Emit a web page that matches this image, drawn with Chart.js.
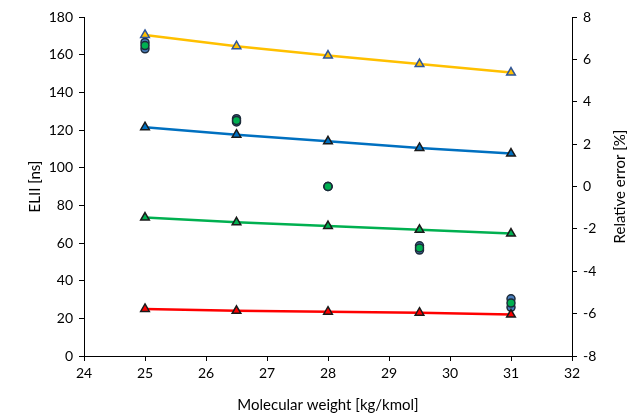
<!doctype html>
<html>
<head>
<title>ELII vs molecular weight</title>
<script src="https://cdn.jsdelivr.net/npm/chart.js@4/dist/chart.umd.min.js"></script>
<style>
  body { margin: 0; background: #fff; }
</style>
</head>
<body>
<canvas id="chart" width="638" height="420"></canvas>
<script>
// molecular weight [kg/kmol]
var weights = [25, 26.5, 28, 29.5, 31];

// ELII [ns], left axis
var eliiYellow = [170.5, 164.5, 159.5, 155, 150.5];
var eliiBlue   = [121.5, 117.5, 114, 110.5, 107.5];
var eliiGreen  = [73.5, 71, 69, 67, 65];
var eliiRed    = [25, 24, 23.5, 23, 22];

// relative error [%], right axis
var errA = [6.8, 3.2, 0.0, -2.8, -5.3];
var errB = [6.5, 3.05, 0.0, -3.0, -5.7];
var errC = [6.65, 3.12, 0.0, -2.9, -5.5];

var xTicks = { min: 24, max: 32, step: 1 };
var yTicks = { min: 0, max: 180, step: 20 };
var y2Ticks = { min: -8, max: 8, step: 2 };

function pts(ys) {
  return weights.map(function(x, i) { return { x: x, y: ys[i] }; });
}

function lineSet(label, ys, color, border) {
  return {
    label: label, data: pts(ys), yAxisID: 'y', showLine: true,
    borderColor: color, borderWidth: 2.5,
    pointStyle: 'triangle', pointRadius: 5,
    pointBackgroundColor: color, pointBorderColor: border, pointBorderWidth: 1.5
  };
}

function errSet(label, ys, fill) {
  return {
    label: label, data: pts(ys), yAxisID: 'y2', showLine: false,
    pointStyle: 'circle', pointRadius: 4,
    pointBackgroundColor: fill, pointBorderColor: '#1c2a3a', pointBorderWidth: 1.5
  };
}

var tickFont = { family: 'Lato, "Open Sans", sans-serif', size: 14 };
var titleFont = { family: 'Lato, "Open Sans", sans-serif', size: 15 };
var axisGrid = { display: true, drawOnChartArea: false, drawTicks: true, tickLength: 5, color: '#000' };

// right axis title reads bottom-to-top, like the left one
var rightTitle = {
  id: 'rightTitle',
  afterDraw: function(chart) {
    var c = chart.ctx, a = chart.chartArea;
    c.save();
    c.translate(620, (a.top + a.bottom) / 2);
    c.rotate(-Math.PI / 2);
    c.fillStyle = '#000';
    c.font = titleFont.size + 'px ' + titleFont.family;
    c.textAlign = 'center';
    c.textBaseline = 'middle';
    c.fillText('Relative error [%]', 0, 0);
    c.restore();
  }
};

var ctx = document.getElementById('chart').getContext('2d');
new Chart(ctx, {
  type: 'scatter',
  data: {
    // lower index is drawn on top
    datasets: [
      lineSet('Yellow', eliiYellow, '#ffc000', '#2f5597'),
      lineSet('Blue', eliiBlue, '#0070c0', '#1a1a1a'),
      lineSet('Green', eliiGreen, '#00b050', '#1a1a1a'),
      lineSet('Red', eliiRed, '#ff0000', '#1a1a1a'),
      errSet('err C', errC, '#00b050'),
      errSet('err A', errA, '#4a7ebb'),
      errSet('err B', errB, '#4a7ebb')
    ]
  },
  options: {
    responsive: false,
    animation: false,
    layout: { padding: { top: 17, left: 26, right: 0, bottom: 6 } },
    plugins: { legend: { display: false }, tooltip: { enabled: false } },
    scales: {
      x: {
        type: 'linear', min: xTicks.min, max: xTicks.max,
        ticks: { stepSize: xTicks.step, color: '#000', font: tickFont, padding: 4 },
        grid: axisGrid, border: { color: '#000', width: 1 },
        title: { display: true, text: 'Molecular weight [kg/kmol]', color: '#000', font: titleFont, padding: 0 },
        afterFit: function(s) { s.height = 58; }
      },
      y: {
        position: 'left', min: yTicks.min, max: yTicks.max,
        ticks: { stepSize: yTicks.step, color: '#000', font: tickFont, padding: 6 },
        grid: axisGrid, border: { color: '#000', width: 1 },
        title: { display: true, text: 'ELII [ns]', color: '#000', font: titleFont, padding: 0 },
        afterFit: function(s) { s.width = 58; }
      },
      y2: {
        position: 'right', min: y2Ticks.min, max: y2Ticks.max,
        ticks: { stepSize: y2Ticks.step, color: '#000', font: tickFont, padding: 6 },
        grid: axisGrid, border: { color: '#000', width: 1 },
        afterFit: function(s) { s.width = 66; }
      }
    }
  },
  plugins: [rightTitle]
});
</script>
</body>
</html>
